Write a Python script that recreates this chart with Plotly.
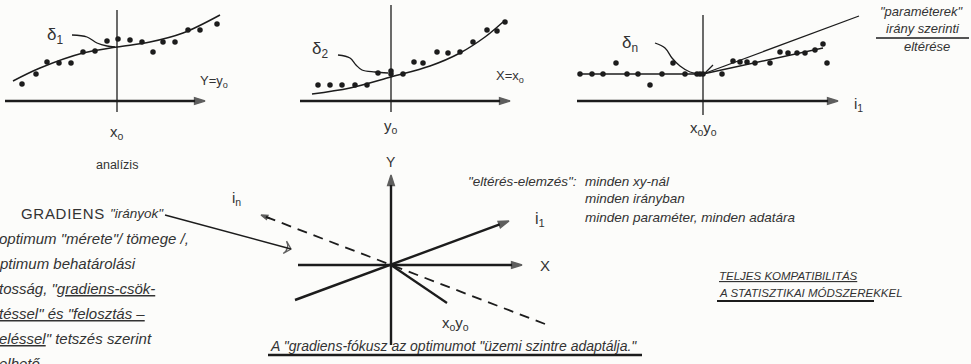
import plotly.graph_objects as go

W, H = 971, 364
UNIT = 10.0  # pixels per data unit on every panel

# ---------------- data (local panel units, origin at the axes crossing) ----------------
# Panel 1 : analízis, Y = y0
p1_dots_x = [-9.5, -8.1, -7.0, -5.8, -4.6, -3.4, -2.2, -1.0, 0.1, 1.3, 2.5, 3.6, 4.6, 5.8, 7.1, 8.3, 10.0]
p1_dots_y = [1.7, 2.7, 3.9, 3.8, 3.8, 4.9, 5.0, 6.0, 6.2, 6.1, 5.9, 4.9, 5.9, 5.9, 7.1, 7.1, 7.7]
p1_fit_x = [-10.4, -7.7, -3.4, 0.0, 3.3, 6.6, 10.3]
p1_fit_y = [2.0, 3.3, 4.8, 5.4, 5.9, 6.8, 8.6]
p1_sig_x = [-4.5, -3.0, -2.0, -1.0, -0.2]
p1_sig_y = [6.6, 6.4, 5.8, 5.5, 5.4]

# Panel 2 : X = x0
p2_dots_x = [-7.3, -6.1, -4.9, -3.6, -2.4, -1.3, 0.0, 0.0, 1.2, 2.3, 3.2, 4.6, 5.7, 6.9, 8.2, 9.6, 10.6, 11.4]
p2_dots_y = [1.6, 1.6, 1.6, 1.6, 1.6, 2.8, 3.0, 2.7, 2.7, 3.9, 3.8, 4.9, 4.8, 4.9, 5.9, 7.1, 7.0, 7.9]
p2_fit_x = [-7.9, -4.1, 0.0, 3.9, 6.9, 9.4, 11.2]
p2_fit_y = [0.7, 1.3, 2.4, 3.5, 4.8, 6.4, 7.9]
p2_sig_x = [-5.3, -4.1, -3.5, -2.9, -1.6, -0.3]
p2_sig_y = [4.6, 4.3, 3.6, 3.1, 2.9, 2.8]

# Panel 3 : i1 direction
p3_dots_x = [-12.3, -11.1, -10.0, -7.6, -6.5, -4.1, -1.8, -0.6, -0.3, 0.0, 1.9,
             -8.7, -5.3, -3.0,
             3.0, 3.7, 4.4, 5.2, 6.7, 7.7, 8.5, 9.4, 10.2, 11.2, 12.0, 12.4]
p3_dots_y = [2.7, 2.7, 2.7, 2.7, 2.7, 2.7, 2.7, 2.7, 2.7, 2.7, 2.7,
             3.8, 1.6, 3.8,
             4.0, 3.9, 3.9, 3.8, 3.8, 4.9, 4.8, 4.8, 4.8, 5.1, 5.7, 3.8]
p3_flat_x = [-12.3, 0.0]
p3_flat_y = [2.7, 2.7]
p3_up_x = [0.0, 15.6]
p3_up_y = [2.7, 8.5]
p3_low_x = [0.0, 12.0]
p3_low_y = [2.7, 5.3]
p3_tick_x = [0.0, 1.0]
p3_tick_y = [2.6, 3.6]
p3_sig_x = [-4.8, -3.8, -3.1, -2.3, -1.3, -0.3]
p3_sig_y = [5.8, 5.3, 4.3, 3.5, 2.9, 2.7]

# panel axis arrows (tail -> head) and vertical lines, per top panel
top_axis_tail_x = [-11.2, -9.1, -12.6]
top_axis_head_x = [8.8, 11.9, 13.5]
top_vert_lo = [-1.1, -1.1, -1.4]
top_vert_hi = [9.1, 9.6, 8.6]

# Panel 4 : gradient directions (tail x, tail y, head x, head y)
p4_arrows = {
    "Y":  (0.0, -8.0, 0.0, 9.0),
    "X":  (-9.3, 0.0, 13.1, 0.0),
    "i1": (-9.6, -3.5, 11.8, 4.4),
}
p4_grad = (-22.6, 5.0, -10.0, 1.6)
p4_dash_x = [15.4, -13.0]
p4_dash_y = [-5.9, 5.0]
p4_short_x = [0.0, 5.6]
p4_short_y = [0.0, -3.8]

# ---------------- layout helpers ----------------
LINE = "#1c1c1c"
TXT = "#333333"
FONT = "Liberation Sans"

# pixel boxes and origins of the four panels
panels = {
    1: dict(origin=(117, 101), box=(0, 0, 240, 140)),
    2: dict(origin=(391, 101), box=(280, 0, 540, 140)),
    3: dict(origin=(703, 101), box=(560, 0, 880, 140)),
    4: dict(origin=(391, 265), box=(150, 150, 600, 364)),
}

fig = go.Figure()
layout_axes = {}
for k, p in panels.items():
    ox, oy = p["origin"]
    x0, y0, x1, y1 = p["box"]
    xs = "" if k == 1 else str(k)
    common = dict(visible=False, showgrid=False, zeroline=False, fixedrange=True)
    layout_axes["xaxis" + xs] = dict(domain=[x0 / W, x1 / W],
                                     range=[(x0 - ox) / UNIT, (x1 - ox) / UNIT],
                                     anchor="y" + xs, **common)
    layout_axes["yaxis" + xs] = dict(domain=[1 - y1 / H, 1 - y0 / H],
                                     range=[(oy - y1) / UNIT, (oy - y0) / UNIT],
                                     anchor="x" + xs, **common)


def ax(k):
    s = "" if k == 1 else str(k)
    return dict(xaxis="x" + s, yaxis="y" + s)


def line(k, x, y, width=1.4, dash=None, spline=False):
    fig.add_trace(go.Scatter(x=x, y=y, mode="lines", hoverinfo="skip", showlegend=False,
                             cliponaxis=False,
                             line=dict(color=LINE, width=width, dash=dash,
                                       shape="spline" if spline else "linear",
                                       smoothing=1.0),
                             **ax(k)))


def dots(k, x, y):
    fig.add_trace(go.Scatter(x=x, y=y, mode="markers", hoverinfo="skip", showlegend=False,
                             marker=dict(color=LINE, size=5.5), **ax(k)))


def arrow(k, tx, ty, hx, hy, width=2.6, head_size=11, symbol="arrow", dash=None):
    fig.add_trace(go.Scatter(x=[tx, hx], y=[ty, hy], mode="lines+markers", hoverinfo="skip",
                             showlegend=False, cliponaxis=False,
                             line=dict(color=LINE, width=width, dash=dash),
                             marker=dict(symbol=["circle", symbol], size=[0, head_size],
                                         angleref="previous", color=LINE,
                                         line=dict(color=LINE, width=1.4)),
                             **ax(k)))


annotations = []


def text(px, py, s, size=13, italic=False, anchor="center", color=TXT, family=FONT):
    if italic:
        s = "<i>" + s + "</i>"
    annotations.append(dict(x=px / W, y=1 - py / H, xref="paper", yref="paper", text=s,
                            showarrow=False, xanchor=anchor, yanchor="middle",
                            font=dict(size=size, color=color, family=family)))


def rule(px0, px1, py, width=1.2):
    fig.add_shape(type="line", xref="paper", yref="paper", x0=px0 / W, x1=px1 / W,
                  y0=1 - py / H, y1=1 - py / H, line=dict(color=LINE, width=width))


# ---------------- top panels ----------------
for i, k in enumerate([1, 2, 3]):
    arrow(k, top_axis_tail_x[i], 0, top_axis_head_x[i], 0, width=2.6, head_size=11)
    line(k, [0, 0], [top_vert_lo[i], top_vert_hi[i]], width=1.3)

line(1, p1_fit_x, p1_fit_y, 1.5, spline=True)
line(1, p1_sig_x, p1_sig_y, 1.3, spline=True)
dots(1, p1_dots_x, p1_dots_y)

line(2, p2_fit_x, p2_fit_y, 1.5, spline=True)
line(2, p2_sig_x, p2_sig_y, 1.3, spline=True)
dots(2, p2_dots_x, p2_dots_y)

line(3, p3_flat_x, p3_flat_y, 1.3)
line(3, p3_up_x, p3_up_y, 1.3)
line(3, p3_low_x, p3_low_y, 1.3)
line(3, p3_tick_x, p3_tick_y, 1.3)
line(3, p3_sig_x, p3_sig_y, 1.3, spline=True)
dots(3, p3_dots_x, p3_dots_y)

# ---------------- bottom panel ----------------
for name in ["Y", "X", "i1"]:
    tx, ty, hx, hy = p4_arrows[name]
    arrow(4, tx, ty, hx, hy, width=2.4, head_size=11)
arrow(4, *p4_grad, width=1.4, head_size=9, symbol="arrow-wide-open")
line(4, p4_dash_x, p4_dash_y, 1.8, dash="10px,7px")
arrow(4, p4_dash_x[1] + 0.9, p4_dash_y[1] - 0.35, p4_dash_x[1], p4_dash_y[1], width=1.6, head_size=7)
line(4, p4_short_x, p4_short_y, 2.2)

# ---------------- texts ----------------
text(55, 36, "δ<sub>1</sub>", 17)
text(214, 82, "Y=y<sub>o</sub>", 13)
text(117, 132, "x<sub>o</sub>", 15)
text(117, 165, "analízis", 12.5)

text(320, 50, "δ<sub>2</sub>", 17)
text(510, 76, "X=x<sub>o</sub>", 13)
text(391, 126, "y<sub>o</sub>", 15)

text(630, 44, "δ<sub>n</sub>", 17)
text(703, 128, "x<sub>o</sub>y<sub>o</sub>", 15)
text(858, 104, "i<sub>1</sub>", 15)

text(922, 12, "\"paraméterek\"", 13, italic=True)
text(923, 29, "irány szerinti", 13, italic=True)
rule(876, 969, 38, 1.3)
text(927, 47, "eltérése", 13, italic=True)

text(579, 181, "\"eltérés-elemzés\":", 13.5, italic=True, anchor="right")
text(583, 181, "minden xy-nál", 13.5, italic=True, anchor="left")
text(583, 199, "minden irányban", 13.5, italic=True, anchor="left")
text(583, 217, "minden paraméter, minden adatára", 13.5, italic=True, anchor="left")

text(391, 162, "Y", 14)
text(545, 265, "X", 15)
text(540, 219, "i<sub>1</sub>", 16)
text(236, 199, "i<sub>n</sub>", 15)
text(455, 323, "x<sub>o</sub>y<sub>o</sub>", 15)

text(19, 213, "<span style=\"letter-spacing:0.7px\">GRADIENS</span>", 15, anchor="left")
text(108, 213, "\"irányok\"", 13.5, italic=True, anchor="left")

left_lines = [
    "optimum \"mérete\"/ tömege /,",
    "ptimum behatárolási",
    "tosság, \"<u>gradiens-csök-</u>",
    "<u>téssel\" és \"felosztás –</u>",
    "<u>eléssel</u>\" tetszés szerint",
    "elhető",
]
left_y = [238, 263, 288, 313, 338, 363]
for s, yy in zip(left_lines, left_y):
    text(-3, yy, s, 15, italic=True, anchor="left")

text(717, 276, "<u>TELJES KOMPATIBILITÁS</u>", 11.5, italic=True, anchor="left")
text(717, 293, "A STATISZTIKAI MÓDSZEREKKEL", 11.5, italic=True, anchor="left")
rule(717, 874, 301, 2.2)

text(268, 346, "A \"gradiens-fókusz az optimumot \"üzemi szintre adaptálja.\"", 14,
     italic=True, anchor="left")
rule(268, 642, 355, 2.4)

fig.update_layout(
    width=W, height=H, margin=dict(l=0, r=0, t=0, b=0),
    paper_bgcolor="#fcfcfa", plot_bgcolor="rgba(0,0,0,0)",
    showlegend=False, annotations=annotations, **layout_axes,
)

fig.write_html("out.html", config={"displayModeBar": False, "staticPlot": True},
               post_script="document.body.style.margin='0';")
